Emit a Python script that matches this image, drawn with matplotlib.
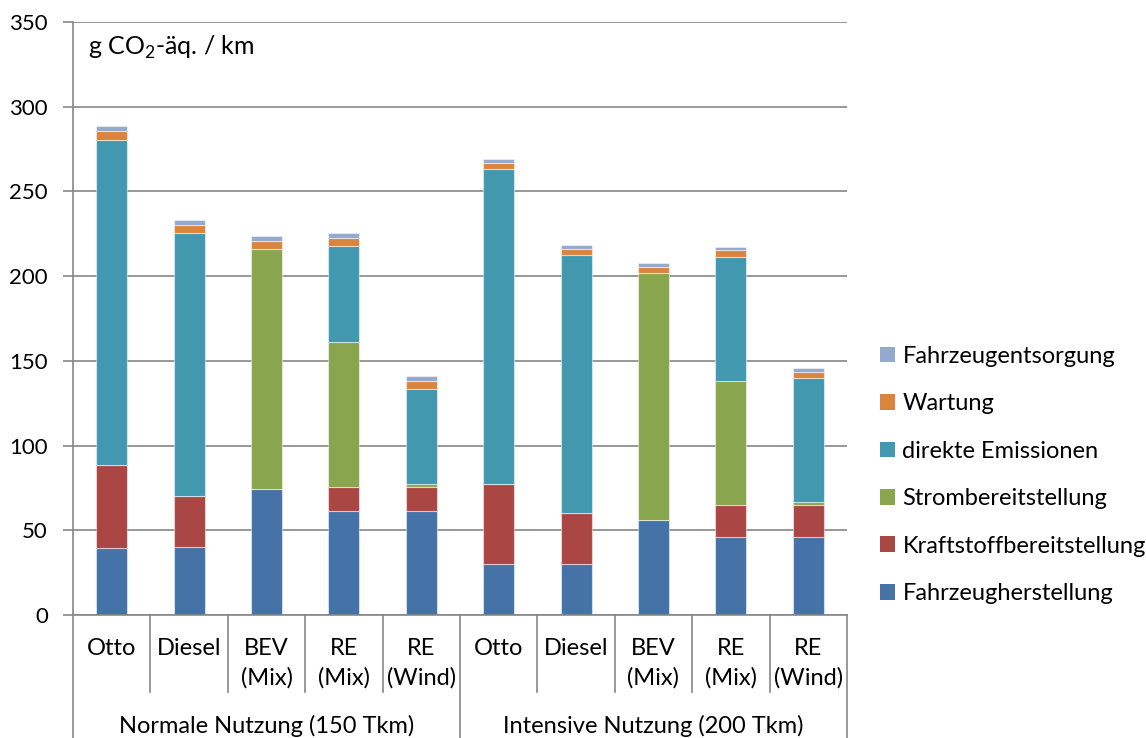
import matplotlib
matplotlib.use("Agg")
import matplotlib.pyplot as plt
from matplotlib.patches import Patch
import matplotlib.transforms as mtransforms
import numpy as np

plt.rcParams['font.family'] = ['Lato', 'DejaVu Sans']
plt.rcParams['mathtext.fontset'] = 'custom'
plt.rcParams['mathtext.rm'] = 'Lato'

categories = ["Otto", "Diesel", "BEV\n(Mix)", "RE\n(Mix)", "RE\n(Wind)",
              "Otto", "Diesel", "BEV\n(Mix)", "RE\n(Mix)", "RE\n(Wind)"]
groups = ["Normale Nutzung (150 Tkm)", "Intensive Nutzung (200 Tkm)"]

fahrzeugherstellung = [39.5, 40.0, 74.5, 61.5, 61.5, 30.0, 30.3, 56.0, 46.0, 46.0]
kraftstoff = [49.0, 30.5, 0.0, 14.0, 14.0, 47.5, 30.0, 0.0, 19.0, 19.0]
strom = [0.0, 0.0, 141.5, 85.5, 2.0, 0.0, 0.0, 146.0, 73.0, 1.6]
direkte = [192.0, 155.0, 0.0, 56.5, 56.0, 185.5, 152.0, 0.0, 73.5, 73.5]
wartung = [5.0, 4.7, 4.5, 5.0, 4.5, 3.7, 3.9, 3.5, 3.8, 3.2]
entsorgung = [3.0, 3.0, 3.0, 2.8, 3.0, 2.4, 2.2, 2.2, 2.0, 2.3]

series_names = ["Fahrzeugherstellung", "Kraftstoffbereitstellung", "Strombereitstellung",
                "direkte Emissionen", "Wartung", "Fahrzeugentsorgung"]
series_values = [fahrzeugherstellung, kraftstoff, strom, direkte, wartung, entsorgung]
colors = ["#4572A7", "#AA4643", "#89A54E", "#4198AF", "#DB843D", "#93A9CF"]

FS = 17
W, H = 1146, 738
fig = plt.figure(figsize=(W / 100, H / 100), dpi=100)
ax = fig.add_axes([73 / W, (H - 615) / H, (847 - 73) / W, (615 - 22) / H])

x = np.arange(len(categories))
bottom = np.zeros(len(categories))
for name, vals, col in zip(series_names, series_values, colors):
    v = np.array(vals)
    ax.bar(x, v, bottom=bottom, width=0.4, color=col, edgecolor=(1, 1, 1, 0.5),
           linewidth=0.8, label=name, zorder=3)
    bottom += v

ax.set_xlim(-0.5, len(categories) - 0.5)
ax.set_ylim(0, 350)
ax.set_yticks(np.arange(0, 351, 50))
ax.tick_params(axis='y', labelsize=16, length=7, width=1.2, color="#868686", pad=11)
ax.tick_params(axis='x', bottom=False, labelbottom=False)
ax.yaxis.grid(True, color="#868686", linewidth=1.2, zorder=0)
for s in ['top', 'right', 'bottom']:
    ax.spines[s].set_visible(False)
ax.spines['left'].set_color("#868686")
ax.spines['left'].set_linewidth(1.2)
ax.set_axisbelow(True)

# Y-axis unit label inside plot
ax.text(88 / W, (H - 47) / H, r"g CO$_\mathregular{2}$-äq. / km", transform=fig.transFigure,
        fontsize=18, ha='left', va='center')

trans = mtransforms.blended_transform_factory(ax.transData, fig.transFigure)
def fy(py):
    return (H - py) / H

# x-axis baseline
ax.plot([-0.5, len(categories) - 0.5], [fy(615), fy(615)], transform=trans,
        color="#868686", lw=1.2, clip_on=False, zorder=4)

# category separators
for i in range(len(categories) + 1):
    xb = i - 0.5
    if i in (0, 5, 10):
        y0 = fy(738)
    else:
        y0 = fy(692)
    ax.plot([xb, xb], [fy(615), y0], transform=trans, color="#868686", lw=1.2,
            clip_on=False)

# category labels
for i, lab in enumerate(categories):
    ax.text(i, fy(638), lab, transform=trans, ha='center', va='top', fontsize=FS,
            linespacing=1.45)

# group labels
for g, lab in enumerate(groups):
    ax.text(g * 5 + 2, fy(726), lab, transform=trans, ha='center', va='center',
            fontsize=FS)

handles = [Patch(facecolor=c, edgecolor='none') for c in colors][::-1]
labels = series_names[::-1]
fig.legend(handles, labels, loc='center left', bbox_to_anchor=(880 / W, fy(475)),
           frameon=False, fontsize=FS, handlelength=0.65, handleheight=0.65,
           handletextpad=0.3, labelspacing=1.12, borderaxespad=0, borderpad=0)

fig.savefig("out.png", dpi=100)
